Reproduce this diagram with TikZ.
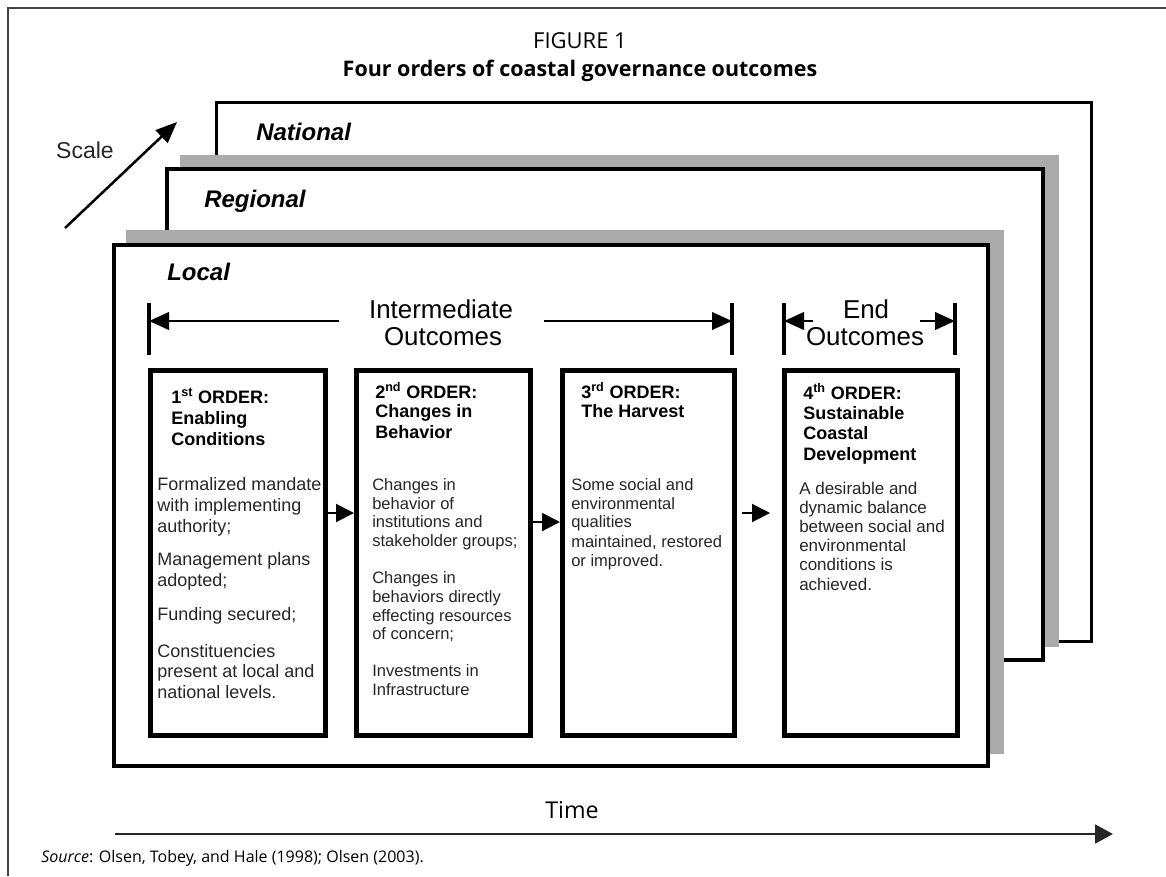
\documentclass[tikz,border=0pt]{standalone}
\usepackage{fontspec}
\setmainfont{Open Sans}
\newfontfamily\arial{Liberation Sans}
\usetikzlibrary{arrows.meta}
\definecolor{shadowgray}{HTML}{ABABAB}
\definecolor{bodyc}{HTML}{262626}
\definecolor{framec}{HTML}{444444}
\tikzset{
  hd/.style={inner sep=0pt, anchor=base west, font=\arial\bfseries\fontsize{13.5}{16}\selectfont},
  bodyA/.style={inner sep=0pt, anchor=base west, text=bodyc, font=\arial\fontsize{13.5}{16}\selectfont},
  bodyB/.style={inner sep=0pt, anchor=base west, text=bodyc, font=\arial\fontsize{12.4}{15}\selectfont},
  bodyC/.style={inner sep=0pt, anchor=base west, text=bodyc, font=\arial\fontsize{12.75}{15}\selectfont},
  bigtxt/.style={inner sep=0pt, anchor=base, font=\arial\fontsize{19.4}{22}\selectfont},
  lvl/.style={inner sep=0pt, anchor=base west, font=\arial\bfseries\itshape\fontsize{18}{21}\selectfont},
  orderbox/.style={draw, line width=3.75pt, minimum height=273.75pt, inner sep=0pt},
  flow/.style={line width=1.5pt, -{Triangle[length=13.5pt,width=13.5pt]}},
  brarrow/.style={line width=2.2pt, -{Triangle[length=15pt,width=13pt]}},
  bar/.style={line width=3pt},
  levelbox/.style={draw, fill=white, line width=3pt},
}
\begin{document}
\begin{tikzpicture}[x=0.75pt, y=-0.75pt]
\useasboundingbox (0,0) rectangle (1166,876);
% outer frame
\draw[framec, line width=1.5pt] (8,876) -- (8,8) -- (1166,8);
% title
\node[inner sep=0pt, anchor=base, font=\fontsize{16.5}{19}\selectfont] (fig) at (580,48) {FIGURE 1};
\node[inner sep=0pt, anchor=base, font=\bfseries\fontsize{16.1}{19}\selectfont] (ttl) at (580,76) {Four orders of coastal governance outcomes};
% level boxes
\draw[levelbox, line width=2.25pt] (216,102) rectangle (1091,641);
\fill[shadowgray] (180,155) rectangle (1059,647);
\draw[levelbox] (167,169) rectangle (1043,660);
\fill[shadowgray] (126,230) rectangle (1004,754);
\draw[levelbox] (114,245) rectangle (988,766);
\node[lvl] (natl) at (256,140) {National};
\node[lvl] (regl) at (204,207) {Regional};
\node[lvl] (locl) at (167,280) {Local};
% scale
\node[inner sep=0pt, anchor=base, text=bodyc, font=\arial\fontsize{17.25}{20}\selectfont] (scale) at (85,158) {Scale};
\coordinate (sc0) at (65,228);
\coordinate (sc1) at (177,122);
\draw[line width=1.9pt, -{Triangle[length=16pt,width=13pt]}] (sc0) -- (sc1);
% outcome brackets
\coordinate (iLt) at (149,303); \coordinate (iLb) at (149,355);
\coordinate (iRt) at (732,303); \coordinate (iRb) at (732,355);
\coordinate (eLt) at (784,303); \coordinate (eLb) at (784,355);
\coordinate (eRt) at (955,303); \coordinate (eRb) at (955,355);
\draw[bar] (iLt) -- (iLb);
\draw[bar] (iRt) -- (iRb);
\draw[bar] (eLt) -- (eLb);
\draw[bar] (eRt) -- (eRb);
\node[bigtxt] (int1) at (441,318) {Intermediate};
\node[bigtxt] (int2) at (443,345) {Outcomes};
\node[bigtxt] (end1) at (866,318) {End};
\node[bigtxt] (end2) at (865,345) {Outcomes};
\coordinate (iLs) at (339,321);
\coordinate (iRs) at (544,321);
\coordinate (eLs) at (813,321);
\coordinate (eRs) at (920,321);
\draw[brarrow] (iLs) -- (iLt |- iLs);
\draw[brarrow] (iRs) -- (iRt |- iRs);
\draw[brarrow] (eLs) -- (eLt |- eLs);
\draw[brarrow] (eRs) -- (eRt |- eRs);
% order boxes
\node[orderbox, minimum width=131.25pt] (box1) at (238,553) {};
\node[orderbox, minimum width=130.5pt] (box2) at (443.5,553) {};
\node[orderbox, minimum width=129pt] (box3) at (648.5,553) {};
\node[orderbox, minimum width=129.75pt] (box4) at (871,553) {};
% flow arrows
\coordinate (f1) at (0,513);
\coordinate (f2) at (0,522);
\coordinate (f3) at (0,513);
\draw[flow] (box1.east |- f1) -- (box2.west |- f1);
\draw[flow] (box2.east |- f2) -- (box3.west |- f2);
\draw[flow, shorten <=3.75pt, shorten >=9pt] (box3.east |- f3) -- (box4.west |- f3);
% box 1
\node[hd] (h1a) at (171,403) {1\textsuperscript{st} ORDER:};
\node[hd] (h1b) at (171,424) {Enabling};
\node[hd] (h1c) at (171,445) {Conditions};
\foreach \yy/\tt [count=\i] in {490/Formalized mandate, 511/with implementing, 532/authority;, 565/Management plans, 586/adopted;, 620/Funding secured;, 657/Constituencies, 677/present at local and, 698/national levels.}
  \node[bodyA] (b1t\i) at (157,\yy) {\tt};
% box 2
\node[hd] (h2a) at (375,398) {2\textsuperscript{nd} ORDER:};
\node[hd] (h2b) at (375,417) {Changes in};
\node[hd] (h2c) at (375,438) {Behavior};
\foreach \yy/\tt [count=\i] in {490/Changes in, 509/behavior of, 527/institutions and, 546/stakeholder groups;, 583/Changes in, 602/behaviors directly, 621/effecting resources, 639/of concern;, 676/Investments in, 695/Infrastructure}
  \node[bodyB] (b2t\i) at (372,\yy) {\tt};
% box 3
\node[hd] (h3a) at (581,398) {3\textsuperscript{rd} ORDER:};
\node[hd] (h3b) at (581,417) {The Harvest};
\foreach \yy/\tt [count=\i] in {490/Some social and/or, 509/environmental, 527/qualities, 547/{maintained, restored}, 566/or improved.}
  \node[bodyB] (b3t\i) at (571,\yy) {\tt};
% box 4
\node[hd] (h4a) at (803,399) {4\textsuperscript{th} ORDER:};
\node[hd] (h4b) at (803,419) {Sustainable};
\node[hd] (h4c) at (803,439) {Coastal};
\node[hd] (h4d) at (803,460) {Development};
\foreach \yy/\tt [count=\i] in {494/A desirable and, 513/dynamic balance, 532/between social and, 551/environmental, 570/conditions is, 590/achieved.}
  \node[bodyC] (b4t\i) at (799,\yy) {\tt};
% time
\node[inner sep=0pt, anchor=base, font=\fontsize{17.4}{20}\selectfont] (time) at (572,818) {Time};
\coordinate (t0) at (115,834);
\coordinate (t1) at (1113,834);
\draw[black!85, line width=2.2pt, -{Triangle[length=13.5pt,width=14pt]}] (t0) -- (t1);
% source
\node[inner sep=0pt, anchor=base west, font=\fontsize{12}{14}\selectfont] (src) at (41,862) {\textit{Source}: Olsen, Tobey, and Hale (1998); Olsen (2003).};
\end{tikzpicture}
\end{document}
